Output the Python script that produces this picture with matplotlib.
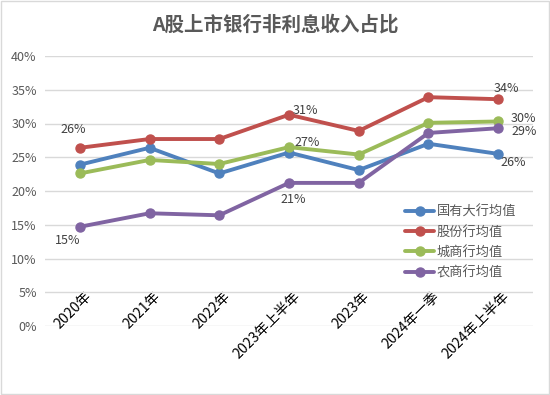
import matplotlib
matplotlib.use("Agg")
from matplotlib import pyplot as plt
from matplotlib.ticker import PercentFormatter
import matplotlib.transforms as mtransforms

plt.rcParams['font.family'] = ['Noto Sans CJK SC', 'DejaVu Sans']

# 数据
periods = ["2020年", "2021年", "2022年", "2023年上半年", "2023年", "2024年一季", "2024年上半年"]
guoyou = [23.9, 26.4, 22.6, 25.7, 23.1, 27.0, 25.5]
gufen = [26.4, 27.7, 27.7, 31.3, 28.9, 33.9, 33.6]
chengshang = [22.6, 24.6, 24.0, 26.5, 25.4, 30.1, 30.3]
nongshang = [14.7, 16.7, 16.4, 21.2, 21.2, 28.6, 29.3]
series_names = ["国有大行均值", "股份行均值", "城商行均值", "农商行均值"]
colors = ["#4F81BD", "#C0504D", "#9BBB59", "#8064A2"]

fig = plt.figure(figsize=(5.5, 3.95), dpi=100)
W, H = 550, 395
ax = fig.add_axes([45 / W, 1 - 326 / H, (533 - 45) / W, (326 - 56) / H])

x = list(range(len(periods)))
for vals, name, c in zip([guoyou, gufen, chengshang, nongshang], series_names, colors):
    ax.plot(x, vals, color=c, lw=2.8, marker="o", ms=6.5, label=name, solid_capstyle="round")

ax.set_xlim(-0.5, len(periods) - 0.5)
ax.set_ylim(0, 40)
ax.set_yticks(range(0, 41, 5))
ax.yaxis.set_major_formatter(PercentFormatter(decimals=0))
ax.grid(axis="y", color="#D9D9D9", lw=1)
ax.set_axisbelow(True)
for s in ax.spines.values():
    s.set_visible(False)
ax.tick_params(axis="y", length=0, labelsize=9, labelcolor="#595959", pad=6)
ax.tick_params(axis="x", length=0, labelsize=10.2, labelcolor="black")

ax.set_xticks(x)
ax.set_xticklabels(periods, rotation=45, ha="right", va="center", rotation_mode="anchor")
shift = mtransforms.ScaledTranslation(9 / 100, 37 / 100, fig.dpi_scale_trans)
for lab in ax.get_xticklabels():
    lab.set_transform(lab.get_transform() + shift)

# 数据标签
lab_kw = dict(fontsize=9, color="#404040", ha="center", va="center")
ax.annotate("26%", (0, gufen[0]), xytext=(-5, 13), textcoords="offset points", **lab_kw)
ax.annotate("15%", (0, nongshang[0]), xytext=(-9, -10), textcoords="offset points", **lab_kw)
ax.annotate("31%", (3, gufen[3]), xytext=(12, 3), textcoords="offset points", **lab_kw)
ax.annotate("27%", (3, chengshang[3]), xytext=(13, 3), textcoords="offset points", **lab_kw)
ax.annotate("21%", (3, nongshang[3]), xytext=(3, -12), textcoords="offset points", **lab_kw)
ax.annotate("34%", (6, gufen[6]), xytext=(6, 8), textcoords="offset points", **lab_kw)
ax.annotate("30%", (6, chengshang[6]), xytext=(18, 2), textcoords="offset points", **lab_kw)
ax.annotate("29%", (6, nongshang[6]), xytext=(19, -2), textcoords="offset points", **lab_kw)
ax.annotate("26%", (6, guoyou[6]), xytext=(11, -6), textcoords="offset points", **lab_kw)

ax.legend(loc="upper left", bbox_to_anchor=(355 / 488, 1 - (200 - 56) / 270), frameon=False,
          fontsize=9.5, labelcolor="#595959", handlelength=2.2, handletextpad=0.2,
          labelspacing=0.55, borderaxespad=0)

fig.text(0.5, 1 - 25 / H, "A股上市银行非利息收入占比", ha="center", va="center",
         fontsize=14, fontweight="bold", color="#595959")

fig.patches.append(plt.Rectangle((0.002, 0.002), 0.996, 0.996, transform=fig.transFigure,
                                 fill=False, edgecolor="#D9D9D9", lw=1))

plt.savefig("out.png", dpi=100)
plt.close()
